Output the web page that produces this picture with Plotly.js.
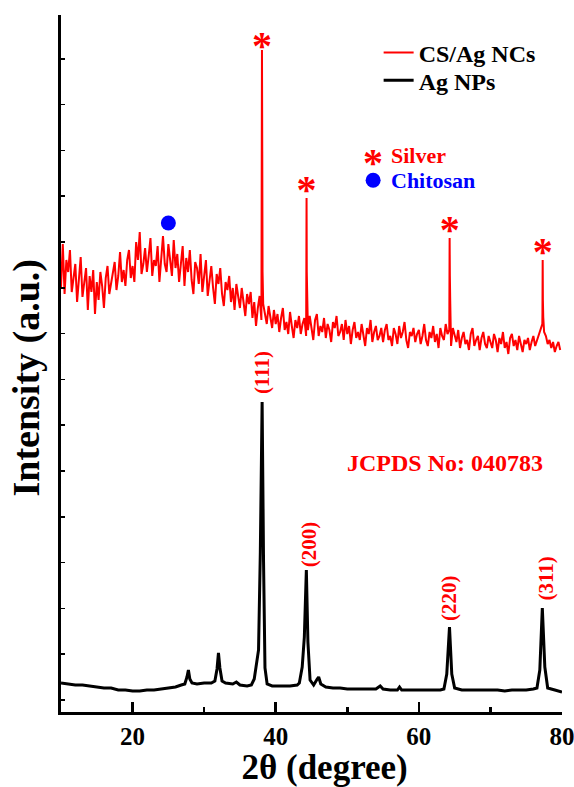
<!DOCTYPE html>
<html>
<head>
<meta charset="utf-8">
<script src="https://cdn.plot.ly/plotly-3.0.1.min.js"></script>
<style>html,body{margin:0;padding:0;background:#fff;}#chart{width:574px;height:787px;}</style>
</head>
<body>
<div id="chart"></div>
<script>
// ---- Data (intensity in arbitrary units) ----
// CS/Ag NCs: background pattern sampled every 0.25 deg from 10.00 to 79.75
const csStart = 10;
const csStep = 0.25;
const csBackground = [
  425, 468, 418, 452, 440, 462, 420, 436, 448, 410, 432, 455, 415, 428, 444, 402, 436, 420, 442, 398,
  430, 412, 440, 426, 404, 434, 446, 418, 428, 438, 450, 422, 436, 460, 430, 442, 426, 452, 462, 434,
  446, 430, 470, 452, 480, 438, 448, 464, 440, 456, 474, 436, 452, 446, 466, 430, 458, 476, 448, 440,
  468, 450, 436, 472, 444, 458, 430, 448, 466, 426, 454, 440, 462, 432, 418, 450, 444, 428, 458, 420,
  440, 452, 416, 432, 446, 424, 408, 438, 428, 444, 418, 406, 430, 422, 436, 410, 424, 402, 428, 416,
  404, 424, 412, 396, 418, 408, 420, 394, 410, 386, 404, 416, 392, 408, 398, 388, 406, 396, 384, 402,
  388, 398, 380, 394, 404, 382, 390, 378, 400, 386, 374, 392, 384, 396, 378, 388, 394, 376, 382, 396,
  384, 372, 392, 398, 376, 386, 380, 394, 374, 388, 382, 370, 390, 384, 396, 376, 380, 388, 372, 392,
  378, 386, 368, 382, 390, 374, 380, 372, 388, 376, 366, 384, 378, 392, 370, 380, 386, 372, 376, 384,
  370, 382, 388, 372, 376, 366, 384, 378, 368, 386, 374, 380, 390, 372, 364, 380, 376, 384, 370, 378,
  382, 368, 376, 388, 372, 366, 380, 374, 386, 370, 378, 364, 384, 376, 372, 388, 378, 382, 366, 384,
  376, 370, 382, 364, 374, 380, 368, 372, 362, 378, 384, 366, 372, 376, 362, 374, 380, 368, 364, 376,
  370, 364, 378, 372, 360, 374, 368, 380, 364, 370, 358, 374, 378, 366, 372, 362, 376, 368, 360, 372,
  368, 374, 362, 370, 376, 366, 372, 378, 384, 388, 380, 376, 368, 372, 364, 370, 360, 366, 370, 362
];
// CS/Ag NCs: silver reflections
const csPeakX = [38.04, 38.08, 38.12, 38.16, 38.21, 44.28, 44.31, 44.34, 44.38, 44.44, 64.27, 64.30, 64.33, 64.38, 64.44, 77.27, 77.30, 77.33, 77.38, 77.44];
const csPeakY = [470, 662, 560, 440, 410, 420, 514, 440, 425, 400, 410, 474, 437, 412, 398, 400, 452, 412, 395, 380];

// Ag NPs
const agX = [10, 11, 12, 13, 14, 15, 16, 17, 18, 19, 20, 21, 22, 23, 24, 25, 26, 26.8, 27.3, 27.6, 27.8, 28.0, 28.3, 29, 30, 31, 31.5, 31.8, 32.0, 32.2, 32.5, 33, 34, 34.5, 35, 36, 36.6, 37.0, 37.3, 37.6, 37.85, 38.1, 38.3, 38.5, 38.8, 39.5, 40, 41, 42, 43, 43.3, 43.7, 44.0, 44.28, 44.5, 44.8, 45.3, 45.8, 46.0, 46.3, 47, 48, 49, 50, 51, 52, 53, 54, 54.6, 55, 56, 57, 57.3, 57.6, 58, 59, 60, 61, 62, 63, 63.5, 63.9, 64.28, 64.6, 65, 66, 67, 68, 69, 70, 71, 72, 73, 74, 75, 76, 76.5, 76.9, 77.25, 77.6, 78, 79, 80];
const agY = [29, 28, 27, 27, 26, 25, 24, 24, 22, 22, 21, 21, 22, 22, 23, 24, 25, 27, 28, 35, 42, 33, 29, 28, 29, 29, 31, 43, 59, 44, 31, 29, 28, 30, 27, 26, 27, 33, 48, 62, 160, 310, 150, 44, 28, 26, 26, 26, 26, 27, 29, 45, 75, 142, 70, 32, 27, 33, 35, 28, 25, 24, 24, 23, 23, 23, 23, 23, 26, 23, 22, 22, 25, 22, 22, 22, 22, 22, 22, 22, 23, 38, 85, 38, 24, 22, 22, 22, 22, 22, 22, 21, 22, 22, 22, 23, 24, 42, 104, 45, 24, 22, 20];

// Markers
const silverX = [38.1, 44.3, 64.3, 77.3];
const silverY = [663, 519, 479, 457];
const chitosanX = [25.0];
const chitosanY = [489];

// Miller indices of Ag reflections
const hklLabels = ['(111)', '(200)', '(220)', '(311)'];
const hklX = [38.1, 44.7, 64.2, 77.7];
const hklY = [339, 168, 114, 133];

// ---- Build CS/Ag series ----
const csPts = [];
csBackground.forEach((v, i) => csPts.push([csStart + i * csStep, v]));
csPeakX.forEach((x, i) => csPts.push([x, csPeakY[i]]));
csPts.sort((a, b) => a[0] - b[0]);
const csX = csPts.map(p => p[0]);
const csY = csPts.map(p => p[1]);

const FONT = 'Liberation Serif, Times New Roman, serif';
const RED = '#ff0000';
const BLUE = '#0000ff';

const traces = [
  {x: csX, y: csY, type: 'scatter', mode: 'lines', name: 'CS/Ag NCs', legend: 'legend',
   line: {color: RED, width: 2}},
  {x: agX, y: agY, type: 'scatter', mode: 'lines', name: 'Ag NPs', legend: 'legend2',
   line: {color: '#000000', width: 3}},
  {x: silverX, y: silverY, type: 'scatter', mode: 'text', text: silverX.map(() => '*'),
   textposition: 'middle center', showlegend: false, hoverinfo: 'skip',
   textfont: {family: FONT, size: 40, color: RED, weight: 'bold'}},
  {x: chitosanX, y: chitosanY, type: 'scatter', mode: 'markers', showlegend: false,
   marker: {color: BLUE, size: 15, symbol: 'circle'}}
];

const annotations = hklLabels.map((t, i) => ({
  x: hklX[i], y: hklY[i], xref: 'x', yref: 'y', text: t, showarrow: false,
  textangle: -90, xanchor: 'center', yanchor: 'middle',
  font: {family: FONT, size: 21, color: RED, weight: 'bold'}
}));
annotations.push({x: 63.67, y: 249, xref: 'x', yref: 'y', text: 'JCPDS No: 040783', showarrow: false,
  xanchor: 'center', yanchor: 'middle', font: {family: FONT, size: 24, color: RED, weight: 'bold'}});
// marker key
annotations.push({x: 0.623, y: 0.788, xref: 'paper', yref: 'paper', text: '*', showarrow: false,
  xanchor: 'center', yanchor: 'middle', font: {family: FONT, size: 40, color: RED, weight: 'bold'}});
annotations.push({x: 0.654, y: 0.799, xref: 'paper', yref: 'paper', text: 'Silver', showarrow: false,
  xanchor: 'left', yanchor: 'middle', font: {family: FONT, size: 22, color: RED, weight: 'bold'}});
annotations.push({x: 0.654, y: 0.762, xref: 'paper', yref: 'paper', text: 'Chitosan', showarrow: false,
  xanchor: 'left', yanchor: 'middle', font: {family: FONT, size: 22, color: BLUE, weight: 'bold'}});

const legendFont = {family: FONT, size: 24, color: '#000', weight: 'bold'};
const layout = {
  width: 574, height: 787,
  margin: {l: 61, r: 12, t: 15, b: 75, pad: 0},
  paper_bgcolor: '#ffffff', plot_bgcolor: '#ffffff',
  showlegend: true,
  legend: {x: 0.634, y: 0.978, xanchor: 'left', yanchor: 'top', bgcolor: 'rgba(0,0,0,0)', font: legendFont},
  legend2: {x: 0.634, y: 0.938, xanchor: 'left', yanchor: 'top', bgcolor: 'rgba(0,0,0,0)', font: legendFont},
  xaxis: {
    range: [10, 80], showline: true, linewidth: 3, linecolor: '#000', mirror: false,
    ticks: 'inside', ticklen: 10, tickwidth: 2.5, tickcolor: '#000', tick0: 0, dtick: 20,
    ticklabeloverflow: 'allow',
    minor: {dtick: 10, ticks: 'inside', ticklen: 5, tickwidth: 2.5, tickcolor: '#000', showgrid: false},
    showgrid: false, zeroline: false,
    tickfont: {family: FONT, size: 25, color: '#000', weight: 'bold'},
    title: {text: '\u200b\u00a0\u00a0\u00a02θ (degree)', standoff: 8, font: {family: FONT, size: 35, color: '#000', weight: 'bold'}}
  },
  yaxis: {
    range: [0, 697], showline: true, linewidth: 3, linecolor: '#000', mirror: false,
    ticks: 'inside', ticklen: 4, tickwidth: 1.5, tickcolor: '#000', tick0: 12, dtick: 45.8,
    showticklabels: false, showgrid: false, zeroline: false,
    title: {text: 'Intensity (a.u.)\u00a0\u00a0\u00a0\u200b', standoff: 7, font: {family: FONT, size: 38, color: '#000', weight: 'bold'}}
  },
  shapes: [{type: 'circle', xref: 'paper', yref: 'paper', xsizemode: 'pixel', ysizemode: 'pixel',
    xanchor: 0.623, yanchor: 0.763, x0: -7.5, x1: 7.5, y0: -7.5, y1: 7.5,
    fillcolor: BLUE, line: {width: 0}}],
  annotations: annotations
};

Plotly.newPlot('chart', traces, layout, {displayModeBar: false, staticPlot: true});
</script>
</body>
</html>
